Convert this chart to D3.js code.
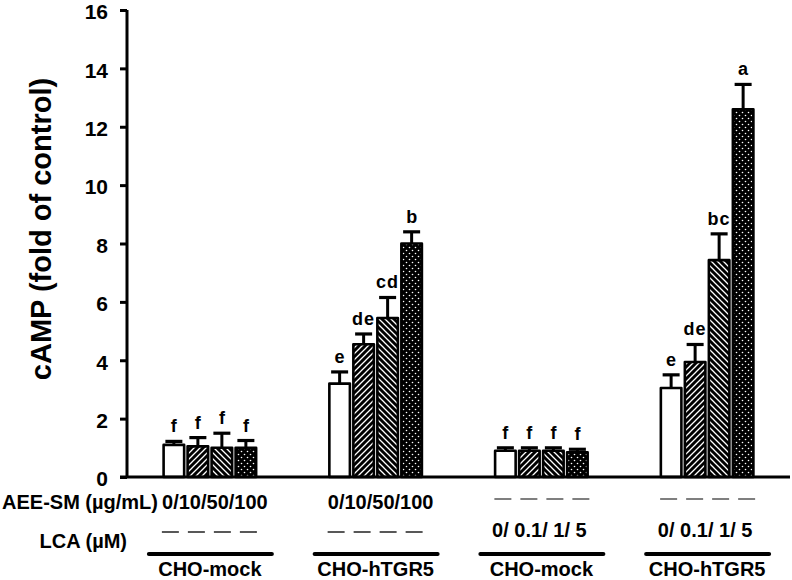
<!DOCTYPE html>
<html>
<head>
<meta charset="utf-8">
<script src="https://cdn.jsdelivr.net/npm/d3@7"></script>
<style>
  html, body { margin: 0; padding: 0; background: #fff; }
  svg { display: block; font-family: Arial, "Liberation Sans", sans-serif; }
</style>
</head>
<body>
<svg id="chart" width="792" height="580"></svg>
<script>
// ---- data ----
const groupLabels = ["CHO-mock", "CHO-hTGR5", "CHO-mock", "CHO-hTGR5"];
const doseIndex = [0, 1, 2, 3];
const means = [
  [1.1, 1.05, 1.0, 1.0],
  [3.2, 4.55, 5.45, 8.0],
  [0.9, 0.9, 0.9, 0.85],
  [3.05, 3.94, 7.43, 12.6]
];
const errors = [
  [0.12, 0.3, 0.5, 0.25],
  [0.4, 0.35, 0.7, 0.4],
  [0.1, 0.1, 0.1, 0.1],
  [0.45, 0.6, 0.9, 0.85]
];
const letters = [
  ["f", "f", "f", "f"],
  ["e", "de", "cd", "b"],
  ["f", "f", "f", "f"],
  ["e", "de", "bc", "a"]
];
const aeeLabels = ["0/10/50/100", "0/10/50/100", null, null];
const lcaLabels = [null, null, "0/ 0.1/ 1/ 5", "0/ 0.1/ 1/ 5"];
const yTicks = [0, 2, 4, 6, 8, 10, 12, 14, 16];
const yTitle = "cAMP (fold of control)";
const aeeTitle = "AEE-SM (\u00B5g/mL)";
const lcaTitle = "LCA (\u00B5M)";

// ---- scales ----
const svg = d3.select("#chart");
const x0 = d3.scaleBand().domain(d3.range(groupLabels.length)).range([127, 790])
  .paddingInner(0.415).paddingOuter(0.2075);
const x1 = d3.scaleBand().domain(doseIndex).range([0, x0.bandwidth()]).padding(0.04);
const y = d3.scaleLinear().domain([0, 16]).range([477, 10]);

// ---- patterns ----
const defs = svg.append("defs");
function hatch(id, d) {
  const p = defs.append("pattern").attr("id", id).attr("patternUnits", "userSpaceOnUse")
    .attr("width", 6).attr("height", 6);
  p.append("rect").attr("width", 6).attr("height", 6).attr("fill", "#000");
  p.append("path").attr("d", d).attr("stroke", "#fff").attr("stroke-width", 1.3);
}
hatch("fwd", "M0,6 L6,0 M-1,1 L1,-1 M5,7 L7,5");
hatch("back", "M0,0 L6,6 M-1,5 L1,7 M5,-1 L7,1");
const dp = defs.append("pattern").attr("id", "dots").attr("patternUnits", "userSpaceOnUse")
  .attr("width", 6).attr("height", 6);
dp.append("rect").attr("width", 6).attr("height", 6).attr("fill", "#000");
dp.append("circle").attr("cx", 1.5).attr("cy", 1.5).attr("r", 0.8).attr("fill", "#fff");
dp.append("circle").attr("cx", 4.5).attr("cy", 4.5).attr("r", 0.8).attr("fill", "#fff");
const fills = ["#fff", "url(#fwd)", "url(#back)", "url(#dots)"];

// ---- bars ----
const flat = [];
means.forEach((row, g) => row.forEach((v, i) => flat.push({g, i, v, e: errors[g][i], l: letters[g][i]})));

const gBars = svg.append("g");
const capW = 17;
flat.forEach(d => {
  const bx = x0(d.g) + x1(d.i);
  const bw = x1.bandwidth();
  const cx = bx + bw / 2;
  // error bar
  gBars.append("line").attr("x1", cx).attr("x2", cx).attr("y1", y(d.v)).attr("y2", y(d.v + d.e))
    .attr("stroke", "#000").attr("stroke-width", 3);
  gBars.append("line").attr("x1", cx - capW / 2).attr("x2", cx + capW / 2)
    .attr("y1", y(d.v + d.e)).attr("y2", y(d.v + d.e))
    .attr("stroke", "#000").attr("stroke-width", 3.2);
  gBars.append("rect").attr("x", bx + 1.25).attr("y", y(d.v))
    .attr("width", bw - 2.5).attr("height", y(0) - y(d.v))
    .attr("fill", fills[d.i]).attr("stroke", "#000").attr("stroke-width", 2.6)
    .attr("stroke-linejoin", "round");
  gBars.append("text").attr("x", cx).attr("y", y(d.v + d.e) - 9)
    .attr("text-anchor", "middle").attr("font-size", 18).attr("font-weight", "bold")
    .attr("letter-spacing", d.l.length > 1 ? 1 : 0)
    .text(d.l);
});

// ---- axes ----
const yAxis = svg.append("g").attr("transform", "translate(127,0)")
  .call(d3.axisLeft(y).tickValues(yTicks).tickSize(7).tickPadding(12).tickFormat(d3.format("d")));
yAxis.select(".domain").attr("stroke-width", 3).attr("d", `M0,${y(16)}V${y(0)}`);
yAxis.selectAll(".tick line").attr("stroke-width", 3);
yAxis.selectAll(".tick text").attr("font-size", 21).attr("font-weight", "bold")
  .attr("dy", "0.42em")
  .attr("font-family", "Arial, 'Liberation Sans', sans-serif").attr("fill", "#000");

svg.append("line").attr("x1", 120).attr("x2", 790).attr("y1", y(0)).attr("y2", y(0))
  .attr("stroke", "#000").attr("stroke-width", 3);

svg.append("text").attr("transform", `translate(51,${229}) rotate(-90)`)
  .attr("text-anchor", "middle").attr("font-size", 29).attr("font-weight", "bold")
  .text(yTitle);

// ---- treatment annotations ----
const ann = svg.append("g").attr("font-weight", "bold").attr("font-size", 20);
ann.append("text").attr("x", 158).attr("y", 509).attr("text-anchor", "end").text(aeeTitle);
ann.append("text").attr("x", 127).attr("y", 548).attr("text-anchor", "end").text(lcaTitle);

function dashes(cx, yy, col) {
  svg.append("line").attr("x1", cx - 48).attr("x2", cx + 48).attr("y1", yy).attr("y2", yy)
    .attr("stroke", col).attr("stroke-width", 1.6).attr("stroke-dasharray", "17,9");
}
groupLabels.forEach((lab, g) => {
  const cx = x0(g) + x0.bandwidth() / 2;
  if (aeeLabels[g]) {
    ann.append("text").attr("x", cx + 5).attr("y", 509).attr("text-anchor", "middle").text(aeeLabels[g]);
  } else {
    dashes(cx + 1, 499, "#555");
  }
  if (lcaLabels[g]) {
    ann.append("text").attr("x", cx - 2).attr("y", 537).attr("text-anchor", "middle").text(lcaLabels[g]);
  } else {
    dashes(cx, 532, "#222");
  }
  svg.append("line").attr("x1", cx - 61).attr("x2", cx + 62).attr("y1", 554).attr("y2", 554)
    .attr("stroke", "#000").attr("stroke-width", 4).attr("stroke-linecap", "round");
  ann.append("text").attr("x", cx).attr("y", 576).attr("text-anchor", "middle").text(lab);
});
</script>
</body>
</html>
